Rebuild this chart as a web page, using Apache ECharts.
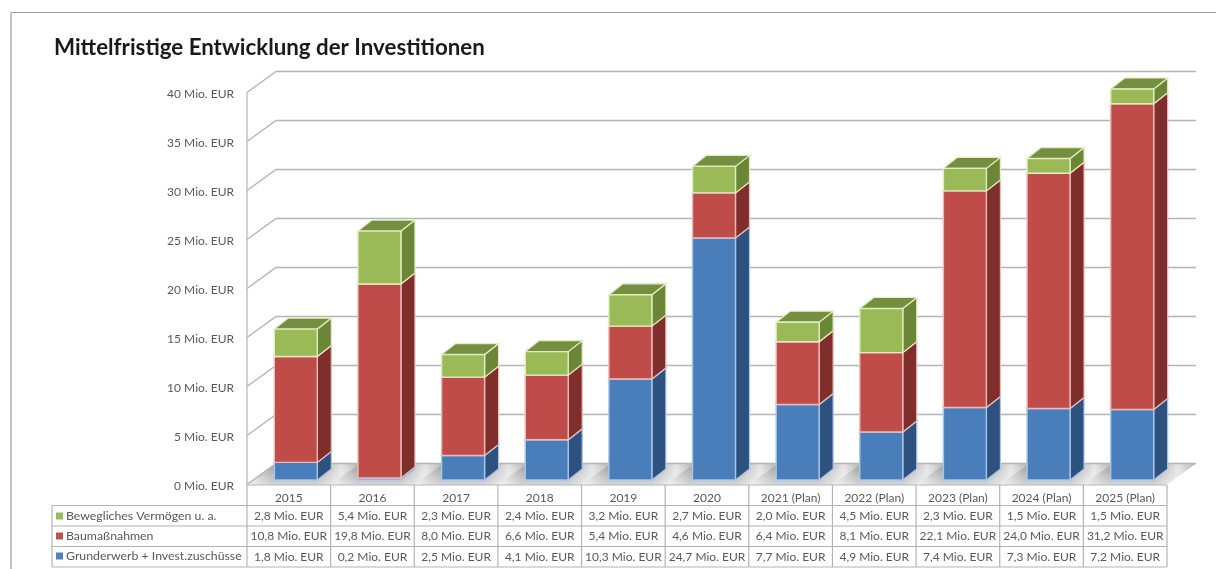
<!DOCTYPE html>
<html lang="de">
<head>
<meta charset="utf-8">
<title>Mittelfristige Entwicklung der Investitionen</title>
<style>html,body{margin:0;padding:0;background:#fff}#chart{width:1216px;height:569px}</style>
<script src="https://cdn.jsdelivr.net/npm/echarts@6/dist/echarts.min.js"></script>
</head>
<body>
<div id="chart"></div>
<script>
// Investment figures in million EUR
var categories = ['2015','2016','2017','2018','2019','2020','2021 (Plan)','2022 (Plan)','2023 (Plan)','2024 (Plan)','2025 (Plan)'];
var grunderwerb = [1.8,0.2,2.5,4.1,10.3,24.7,7.7,4.9,7.4,7.3,7.2];
var baumassnahmen = [10.8,19.8,8.0,6.6,5.4,4.6,6.4,8.1,22.1,24.0,31.2];
var beweglich = [2.8,5.4,2.3,2.4,3.2,2.7,2.0,4.5,2.3,1.5,1.5];
var yTicks = [0,5,10,15,20,25,30,35,40];
var nameGrunderwerb = 'Grunderwerb + Invest.zuschüsse';
var nameBau = 'Baumaßnahmen';
var nameBeweglich = 'Bewegliches Vermögen u. a.';

// Pseudo-3D projection of the chart box
var BOX_DX = 29, BOX_DY = 21;      // depth of walls and floor
var BAR_SHIFT_X = 7, BAR_SHIFT_Y = 4.5; // bars stand slightly behind the front edge
var BAR_DX = 14, BAR_DY = 11, BAR_W = 43;
var TEXT = '#595959', FONT = 'Lato';
var RULE = '#b4b4b4';
var ROW_Y = [485, 505.5, 526, 546.5, 567];
var TABLE_LEFT = 52;

function fmt(v) { return v.toFixed(1).replace('.', ',') + ' Mio. EUR'; }
function poly(points, fill, stroke, lw) {
  return { type: 'polygon', shape: { points: points }, style: { fill: fill, stroke: stroke || null, lineWidth: lw || 0 } };
}

// One stacked segment: front, side and top faces
function segmentRenderer(front, side, top, edge) {
  return function (params, api) {
    var i = api.value(0);
    var p0 = api.coord([i, api.value(1)]);
    var p1 = api.coord([i, api.value(2)]);
    var cx = p0[0] + BAR_SHIFT_X;
    var l = cx - BAR_W / 2, r = cx + BAR_W / 2;
    var yb = p0[1] - BAR_SHIFT_Y, yt = p1[1] - BAR_SHIFT_Y;
    return {
      type: 'group',
      children: [
        poly([[r, yb], [r + BAR_DX, yb - BAR_DY], [r + BAR_DX, yt - BAR_DY], [r, yt]], side, edge, 1.2),
        poly([[l, yt], [r, yt], [r + BAR_DX, yt - BAR_DY], [l + BAR_DX, yt - BAR_DY]], top, edge, 1.2),
        poly([[l, yb], [r, yb], [r, yt], [l, yt]], front, edge, 1.4)
      ]
    };
  };
}

function stackedRows(values, below) {
  return values.map(function (v, i) {
    var start = below.reduce(function (s, arr) { return s + arr[i]; }, 0);
    return [i, start, start + v];
  });
}

// Gridlines run along the left wall and across the back wall
function renderWall(params, api) {
  var v = api.value(0);
  var size = params.coordSys;
  var p = api.coord([0, v]);
  var x0 = size.x, x1 = size.x + size.width;
  return {
    type: 'polyline',
    shape: { points: [[x0, p[1]], [x0 + BOX_DX, p[1] - BOX_DY], [x1 + BOX_DX, p[1] - BOX_DY]] },
    style: { stroke: RULE, lineWidth: 1.4, fill: null }
  };
}

// Floor of the chart box, shaded per category and fading towards the front edge
function renderFloor(params, api) {
  var i = api.value(0);
  var c = api.coord([i, 0]);
  var w = api.size([1, 0])[0];
  var l = c[0] - w / 2, r = c[0] + w / 2, y = c[1];
  var pts = [[l, y], [r, y], [r + BOX_DX, y - BOX_DY], [l + BOX_DX, y - BOX_DY]];
  return {
    type: 'group',
    children: [
      poly(pts, {
        type: 'linear', x: 0, y: 0, x2: 1, y2: 0,
        colorStops: [
          { offset: 0, color: '#e6e6e6' }, { offset: 0.22, color: '#a0a0a0' },
          { offset: 0.62, color: '#a0a0a0' }, { offset: 0.84, color: '#e4e4e4' }, { offset: 1, color: '#b0b0b0' }
        ]
      }),
      poly(pts, {
        type: 'linear', x: 0, y: 0, x2: 0, y2: 1,
        colorStops: [
          { offset: 0, color: 'rgba(255,255,255,0)' }, { offset: 1, color: 'rgba(255,255,255,0.55)' }
        ]
      })
    ]
  };
}

// Data table below the plot: one column per category
function renderTableColumn(params, api) {
  var i = api.value(0);
  var c = api.coord([i, 0]);
  var w = api.size([1, 0])[0];
  var r = c[0] + w / 2;
  var children = [{
    type: 'line', shape: { x1: r, y1: ROW_Y[0], x2: r, y2: ROW_Y[4] },
    style: { stroke: RULE, lineWidth: 1.2 }
  }];
  [beweglich[i], baumassnahmen[i], grunderwerb[i]].forEach(function (v, row) {
    children.push({
      type: 'text',
      style: {
        x: c[0], y: (ROW_Y[row + 1] + ROW_Y[row + 2]) / 2, text: fmt(v),
        align: 'center', verticalAlign: 'middle', fill: TEXT, font: '12px ' + FONT
      }
    });
  });
  return { type: 'group', children: children };
}

// Table outline and row rules that span the legend column
function renderTableFrame(params, api) {
  var size = params.coordSys;
  var x0 = size.x, x1 = size.x + size.width, lines = [];
  function hline(a, b, y) {
    lines.push({ type: 'line', shape: { x1: a, y1: y, x2: b, y2: y }, style: { stroke: RULE, lineWidth: 1.2 } });
  }
  hline(x0, x1, ROW_Y[0]);
  for (var k = 1; k < ROW_Y.length; k++) hline(TABLE_LEFT, x1, ROW_Y[k]);
  [TABLE_LEFT, x0].forEach(function (x, n) {
    lines.push({ type: 'line', shape: { x1: x, y1: n ? size.y : ROW_Y[1], x2: x, y2: ROW_Y[4] }, style: { stroke: RULE, lineWidth: 1.2 } });
  });
  return { type: 'group', children: lines };
}

var catRows = categories.map(function (c, i) { return [i]; });

var option = {
  animation: false,
  backgroundColor: '#fff',
  title: {
    text: 'Mittelfristige Entwicklung der Investitionen',
    left: 49, top: 32,
    textStyle: { fontFamily: FONT, fontWeight: 'bold', fontSize: 22.3, color: '#1a1a1a' }
  },
  graphic: [
    { type: 'line', shape: { x1: 11, y1: 12.5, x2: 1216, y2: 12.5 }, style: { stroke: '#9a9a9a', lineWidth: 1.2 } },
    { type: 'line', shape: { x1: 11, y1: 12.5, x2: 11, y2: 569 }, style: { stroke: '#9a9a9a', lineWidth: 1.2 } }
  ],
  grid: { left: 247, width: 920, top: 92.5, height: 392, containLabel: false },
  xAxis: {
    type: 'category', data: categories,
    axisLine: { show: false }, axisTick: { show: false }, splitLine: { show: false },
    axisLabel: { interval: 0, margin: 8, color: TEXT, fontFamily: FONT, fontSize: 12 }
  },
  yAxis: {
    type: 'value', min: 0, max: 40, interval: 5,
    axisLine: { show: false }, axisTick: { show: false }, splitLine: { show: false },
    axisLabel: {
      margin: 13, formatter: '{t|{value} Mio. EUR}',
      rich: { t: { color: TEXT, fontFamily: FONT, fontSize: 12, padding: [4, 0, 0, 0] } }
    }
  },
  legend: {
    orient: 'vertical', left: 56, top: 510,
    itemWidth: 7, itemHeight: 7, itemGap: 8, icon: 'rect',
    data: [nameBeweglich, nameBau, nameGrunderwerb],
    textStyle: { color: TEXT, fontFamily: FONT, fontSize: 12.3, padding: [0, 0, 0, -2] },
    padding: 0, selectedMode: false
  },
  tooltip: { show: false },
  series: [
    { type: 'custom', name: 'Boden', silent: true, z: 1, data: catRows, encode: { x: 0 }, renderItem: renderFloor },
    { type: 'custom', name: 'Gitter', silent: true, z: 1, data: yTicks.map(function (t) { return [t]; }), encode: { y: 0 }, renderItem: renderWall },
    { type: 'custom', name: 'Tabellenrahmen', silent: true, z: 1, data: [[0]], renderItem: renderTableFrame },
    { type: 'custom', name: 'Tabelle', silent: true, z: 2, data: catRows, encode: { x: 0 }, renderItem: renderTableColumn },
    {
      type: 'custom', name: nameGrunderwerb, z: 3, itemStyle: { color: '#4f81bd' },
      data: stackedRows(grunderwerb, []), encode: { x: 0, y: [1, 2] },
      renderItem: segmentRenderer('#4a7ebb', '#2d527f', '#3a6496', '#a9c6ea')
    },
    {
      type: 'custom', name: nameBau, z: 3, itemStyle: { color: '#c0504d' },
      data: stackedRows(baumassnahmen, [grunderwerb]), encode: { x: 0, y: [1, 2] },
      renderItem: segmentRenderer('#c04c4a', '#7f2e2c', '#93403e', '#ecbdb8')
    },
    {
      type: 'custom', name: nameBeweglich, z: 3, itemStyle: { color: '#9bbb59' },
      data: stackedRows(beweglich, [grunderwerb, baumassnahmen]), encode: { x: 0, y: [1, 2] },
      renderItem: segmentRenderer('#9aba58', '#6b8637', '#758f40', '#e3edc0')
    }
  ]
};

echarts.init(document.getElementById('chart'), null, { renderer: 'canvas' }).setOption(option);
</script>
</body>
</html>
